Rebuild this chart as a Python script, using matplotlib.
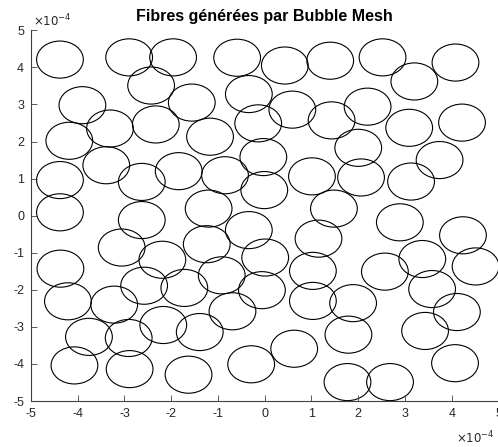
import matplotlib
matplotlib.use("Agg")
import matplotlib.pyplot as plt
from matplotlib.patches import Circle

plt.rcParams['font.family'] = ['Liberation Sans', 'DejaVu Sans']
plt.rcParams['axes.unicode_minus'] = False

# Fibre centres (units of 1e-4) and radius
x_centers = [-4.38, -2.90, -1.96, -0.59, -2.43, -3.90, -3.31, -2.33, -4.18, -3.39,
             -4.38, -2.63, -1.56, -0.34, -1.17, -0.14, -0.03, -1.84, -0.85, -0.01,
             0.43, 1.40, 2.52, 0.59, 1.43, 2.20, 2.00, 1.01, 2.06, 3.20,
             4.08, 3.09, 4.22, 3.74, 3.13, -4.38, -2.63, -3.06, -2.19, -4.37,
             -2.58, -4.21, -3.22, -2.17, -3.76, -2.91, -4.07, -2.89, -1.20, -0.34,
             -1.24, 0.01, -0.92, -1.72, -0.06, -0.69, -1.39, -1.63, -0.29, 1.48,
             2.89, 1.15, 1.03, 2.57, 1.03, 1.89, 1.79, 0.63, 1.77, 4.24,
             3.37, 4.51, 3.58, 4.11, 3.43, 4.07, 2.68]
y_centers = [4.21, 4.27, 4.27, 4.26, 3.51, 2.98, 2.35, 2.46, 2.02, 1.36,
             0.96, 0.91, 3.05, 3.28, 2.13, 2.49, 1.58, 1.20, 1.09, 0.69,
             4.05, 4.18, 4.27, 2.86, 2.57, 2.94, 1.83, 1.06, 1.03, 3.62,
             4.13, 2.37, 2.51, 1.50, 0.92, 0.09, -0.12, -0.86, -1.19, -1.43,
             -1.89, -2.31, -2.40, -2.95, -3.27, -3.30, -4.04, -4.14, 0.19, -0.39,
             -0.77, -1.13, -1.61, -1.95, -2.01, -2.58, -3.14, -4.29, -4.01, 0.19,
             -0.18, -0.62, -1.49, -1.51, -2.30, -2.36, -3.21, -3.59, -4.49, -0.53,
             -1.17, -1.37, -1.98, -2.60, -3.11, -3.98, -4.49]
radius = 0.5
ticks = [-5, -4, -3, -2, -1, 0, 1, 2, 3, 4, 5]
title = "Fibres générées par Bubble Mesh"

fig = plt.figure(figsize=(4.98, 4.47), dpi=100)
ax = fig.add_axes([0.0622, 0.1029, 0.9388, 0.8293])

for xc, yc in zip(x_centers, y_centers):
    ax.add_patch(Circle((xc, yc), radius, fill=False, edgecolor='black', linewidth=0.8))

ax.set_xlim(-5, 5)
ax.set_ylim(-5, 5)
ax.set_xticks(ticks)
ax.set_yticks(ticks)
ax.set_xticklabels([str(t) for t in ticks])
ax.set_yticklabels([str(t) for t in ticks])

axcol = '#404040'
for s in ['top', 'right']:
    ax.spines[s].set_visible(False)
for s in ['left', 'bottom']:
    ax.spines[s].set_color(axcol)
    ax.spines[s].set_linewidth(0.8)
ax.tick_params(direction='in', length=4, width=0.6, colors=axcol,
               labelsize=9, labelcolor='#262626', pad=5)

ax.set_title(title, fontsize=11.5, fontweight='bold', pad=7)

fig.text(33/498, 1 - 26/447, r'$\times10^{-4}$', fontsize=8.5, color='#262626',
         ha='left', va='baseline')
fig.text(456/498, 1 - 443/447, r'$\times10^{-4}$', fontsize=8.5, color='#262626',
         ha='left', va='baseline')

fig.savefig('out.png', dpi=100)
